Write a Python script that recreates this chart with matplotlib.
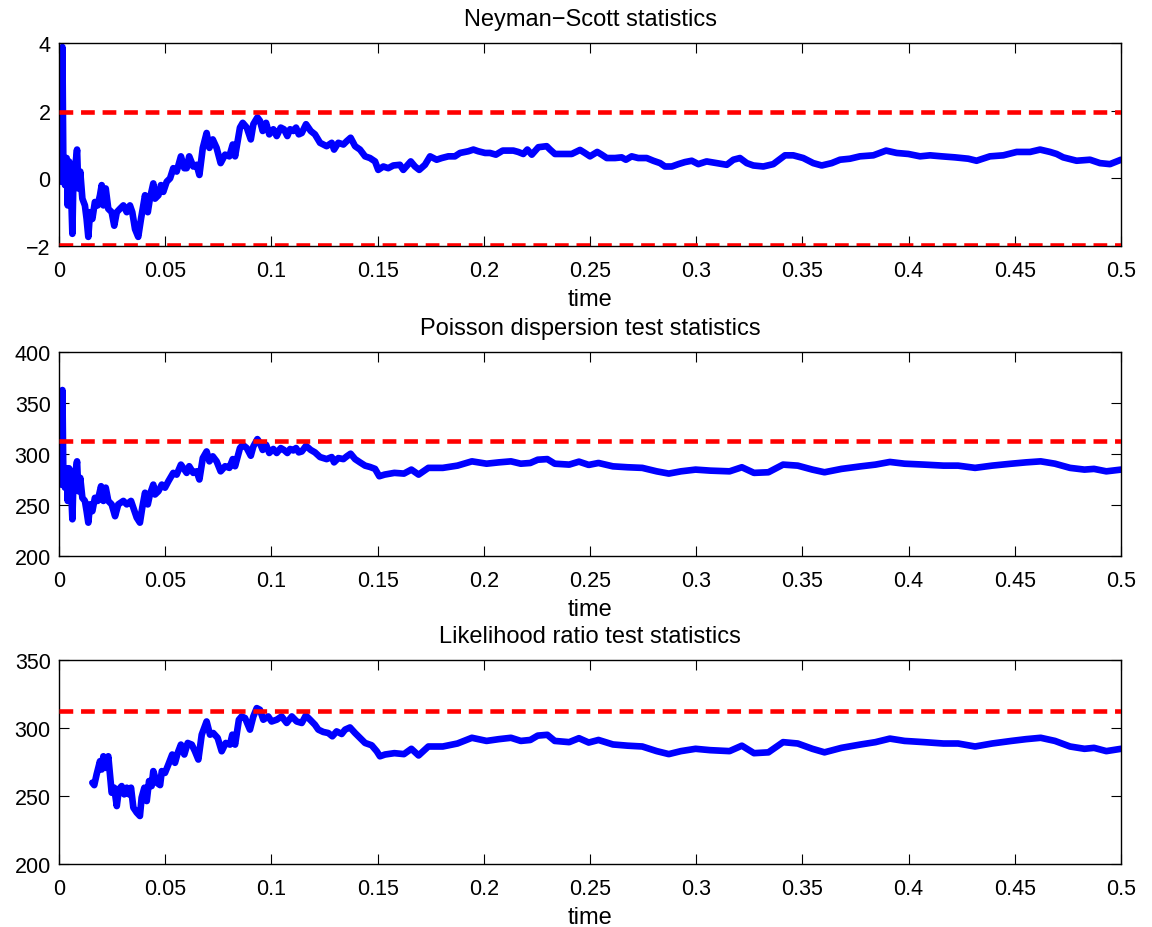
import matplotlib
matplotlib.use("Agg")
import matplotlib.pyplot as plt

plt.rcParams['font.family'] = ['Liberation Sans', 'DejaVu Sans']

# ---------------- data ----------------
# Neyman-Scott statistics
ns_t = [0.0005, 0.0016, 0.0020, 0.0028, 0.0036, 0.0041, 0.0047, 0.0056, 0.0063, 0.0069,
        0.0079, 0.0085, 0.0091, 0.0100, 0.0110, 0.0122, 0.0130, 0.0138, 0.0146, 0.0157,
        0.0169, 0.0182, 0.0193, 0.0201, 0.0209, 0.0220, 0.0232, 0.0248, 0.0260, 0.0272,
        0.0287, 0.0303, 0.0319, 0.0334, 0.0345, 0.0358, 0.0373, 0.0386, 0.0397, 0.0405,
        0.0418, 0.0428, 0.0444, 0.0452, 0.0468, 0.0480, 0.0491, 0.0507, 0.0523, 0.0538,
        0.0554, 0.0574, 0.0590, 0.0601, 0.0613, 0.0632, 0.0648, 0.0661, 0.0677, 0.0695,
        0.0708, 0.0724, 0.0742, 0.0761, 0.0782, 0.0802, 0.0818, 0.0829, 0.0852, 0.0865,
        0.0884, 0.0903, 0.0915, 0.0934, 0.0946, 0.0959, 0.0975, 0.0990, 0.1009, 0.1025,
        0.1044, 0.1059, 0.1075, 0.1088, 0.1103, 0.1116, 0.1129, 0.1143, 0.1163, 0.1185,
        0.1205, 0.1229, 0.1260, 0.1284, 0.1295, 0.1315, 0.1339, 0.1355, 0.1373, 0.1394,
        0.1417, 0.1441, 0.1464, 0.1488, 0.1503, 0.1527, 0.1550, 0.1574, 0.1605, 0.1621,
        0.1656, 0.1676, 0.1696, 0.1723, 0.1747, 0.1778, 0.1802, 0.1833, 0.1864, 0.1888,
        0.1927, 0.1951, 0.1974, 0.2006, 0.2029, 0.2057, 0.2089, 0.2115, 0.2139, 0.2162,
        0.2186, 0.2205, 0.2226, 0.2257, 0.2296, 0.2312, 0.2335, 0.2374, 0.2414, 0.2453,
        0.2476, 0.2500, 0.2534, 0.2555, 0.2579, 0.2618, 0.2649, 0.2669, 0.2696, 0.2727,
        0.2767, 0.2798, 0.2830, 0.2853, 0.2885, 0.2916, 0.2947, 0.2979, 0.3010, 0.3049,
        0.3097, 0.3144, 0.3175, 0.3206, 0.3238, 0.3269, 0.3316, 0.3363, 0.3418, 0.3457,
        0.3504, 0.3551, 0.3591, 0.3638, 0.3677, 0.3724, 0.3771, 0.3834, 0.3894, 0.3944,
        0.3999, 0.4054, 0.4101, 0.4156, 0.4218, 0.4281, 0.4320, 0.4383, 0.4446, 0.4509,
        0.4572, 0.4619, 0.4666, 0.4697, 0.4728, 0.4791, 0.4854, 0.4901, 0.4948, 0.4987,
        0.5000]
ns_v = [-0.10, 3.88, 0.70, -0.20, 0.60, -0.80, 0.50, -0.20, -1.64, 0.40,
        0.50, 0.85, -0.30, 0.20, -0.60, -0.80, -1.20, -1.73, -1.00, -1.20,
        -0.70, -0.80, -0.50, -0.20, -0.80, -0.30, -0.90, -1.00, -1.40, -1.00,
        -0.90, -0.80, -1.00, -0.80, -1.00, -1.50, -1.73, -1.20, -0.80, -0.50,
        -1.00, -0.60, -0.15, -0.60, -0.50, -0.20, -0.40, -0.10, 0.00, 0.30,
        0.20, 0.65, 0.30, 0.30, 0.65, 0.35, 0.40, 0.10, 0.90, 1.34,
        0.90, 1.15, 0.90, 0.45, 0.70, 0.65, 1.00, 0.65, 1.50, 1.64,
        1.50, 1.15, 1.60, 1.80, 1.70, 1.40, 1.64, 1.30, 1.45, 1.25,
        1.50, 1.45, 1.25, 1.45, 1.40, 1.50, 1.30, 1.34, 1.60, 1.40,
        1.30, 1.05, 0.95, 1.05, 0.85, 1.05, 1.00, 1.10, 1.20, 0.95,
        0.85, 0.65, 0.60, 0.50, 0.25, 0.35, 0.30, 0.38, 0.40, 0.25,
        0.50, 0.35, 0.25, 0.40, 0.65, 0.55, 0.60, 0.65, 0.65, 0.75,
        0.80, 0.85, 0.80, 0.75, 0.75, 0.70, 0.82, 0.82, 0.82, 0.78,
        0.72, 0.85, 0.70, 0.92, 0.95, 0.85, 0.72, 0.72, 0.72, 0.84,
        0.75, 0.65, 0.78, 0.70, 0.60, 0.60, 0.62, 0.55, 0.65, 0.60,
        0.60, 0.52, 0.45, 0.35, 0.35, 0.42, 0.48, 0.52, 0.42, 0.50,
        0.45, 0.40, 0.55, 0.60, 0.45, 0.38, 0.35, 0.42, 0.68, 0.68,
        0.60, 0.45, 0.38, 0.45, 0.55, 0.58, 0.65, 0.68, 0.82, 0.75,
        0.72, 0.65, 0.68, 0.65, 0.62, 0.58, 0.52, 0.65, 0.68, 0.78,
        0.78, 0.85, 0.78, 0.72, 0.62, 0.52, 0.55, 0.45, 0.42, 0.52,
        0.55]
ns_bound = 1.96

# Poisson dispersion test statistics
pd_t = [0.0005, 0.0016, 0.0020, 0.0028, 0.0036, 0.0041, 0.0047, 0.0056, 0.0063, 0.0069,
        0.0079, 0.0085, 0.0091, 0.0100, 0.0110, 0.0122, 0.0130, 0.0138, 0.0146, 0.0157,
        0.0169, 0.0182, 0.0198, 0.0209, 0.0220, 0.0232, 0.0248, 0.0264, 0.0279, 0.0303,
        0.0319, 0.0339, 0.0350, 0.0366, 0.0381, 0.0392, 0.0405, 0.0418, 0.0428, 0.0444,
        0.0452, 0.0468, 0.0484, 0.0499, 0.0515, 0.0538, 0.0554, 0.0574, 0.0590, 0.0601,
        0.0613, 0.0632, 0.0648, 0.0661, 0.0677, 0.0695, 0.0708, 0.0724, 0.0742, 0.0761,
        0.0782, 0.0802, 0.0818, 0.0829, 0.0852, 0.0865, 0.0884, 0.0903, 0.0915, 0.0934,
        0.0946, 0.0959, 0.0975, 0.0990, 0.1009, 0.1025, 0.1044, 0.1059, 0.1075, 0.1088,
        0.1103, 0.1116, 0.1129, 0.1143, 0.1163, 0.1185, 0.1205, 0.1229, 0.1260, 0.1284,
        0.1295, 0.1315, 0.1339, 0.1355, 0.1373, 0.1394, 0.1417, 0.1441, 0.1464, 0.1488,
        0.1508, 0.1533, 0.1579, 0.1624, 0.1659, 0.1693, 0.1739, 0.1807, 0.1876, 0.1944,
        0.2013, 0.2071, 0.2128, 0.2174, 0.2219, 0.2254, 0.2299, 0.2334, 0.2402, 0.2448,
        0.2494, 0.2540, 0.2608, 0.2677, 0.2746, 0.2814, 0.2871, 0.2928, 0.2997, 0.3066,
        0.3157, 0.3215, 0.3272, 0.3340, 0.3409, 0.3478, 0.3547, 0.3604, 0.3684, 0.3775,
        0.3844, 0.3912, 0.3981, 0.4073, 0.4164, 0.4233, 0.4313, 0.4393, 0.4484, 0.4553,
        0.4622, 0.4689, 0.4760, 0.4828, 0.4873, 0.4931, 0.5000]
pd_v = [270.0, 362.7, 286.0, 267.0, 286.0, 254.0, 286.0, 270.0, 236.0, 283.0,
        284.7, 292.8, 263.5, 276.6, 257.0, 254.0, 244.0, 232.7, 250.6, 244.0,
        257.0, 254.0, 268.4, 254.0, 267.0, 254.0, 250.6, 239.0, 250.6, 254.0,
        250.6, 254.0, 247.4, 237.6, 232.7, 247.4, 262.0, 250.6, 260.3, 270.0,
        260.3, 263.5, 270.0, 267.0, 273.3, 281.5, 279.8, 289.6, 284.7, 281.5,
        288.0, 281.5, 283.0, 275.0, 296.0, 302.5, 292.8, 297.7, 292.8, 283.0,
        288.0, 286.4, 295.0, 288.0, 305.8, 309.0, 305.8, 298.3, 307.4, 314.6,
        310.7, 304.0, 309.0, 301.0, 304.9, 301.0, 305.8, 304.0, 301.0, 304.9,
        303.5, 305.8, 301.6, 302.5, 308.0, 304.0, 301.6, 297.0, 295.0, 297.0,
        291.8, 296.0, 295.0, 297.7, 300.3, 295.0, 291.8, 288.6, 287.3, 285.4,
        278.2, 279.8, 281.5, 280.8, 284.7, 279.8, 286.4, 286.4, 288.6, 292.8,
        290.5, 291.8, 292.8, 290.5, 291.2, 294.4, 295.0, 290.5, 289.6, 292.5,
        289.3, 291.2, 287.9, 287.0, 286.4, 283.0, 280.8, 283.0, 284.7, 283.7,
        283.0, 287.0, 281.5, 282.1, 289.6, 288.6, 284.7, 282.1, 285.4, 287.9,
        289.6, 292.2, 290.5, 289.6, 288.6, 288.6, 286.4, 288.6, 290.5, 291.8,
        292.8, 290.5, 286.4, 284.7, 285.4, 283.0, 284.7]
pd_crit = 312.3

# Likelihood ratio test statistics
lr_t = [0.0157, 0.0166, 0.0177, 0.0193, 0.0201, 0.0209, 0.0220, 0.0232, 0.0240, 0.0248,
        0.0260, 0.0272, 0.0282, 0.0295, 0.0307, 0.0319, 0.0330, 0.0339, 0.0350, 0.0366,
        0.0381, 0.0389, 0.0402, 0.0413, 0.0424, 0.0436, 0.0444, 0.0460, 0.0476, 0.0484,
        0.0499, 0.0515, 0.0533, 0.0546, 0.0559, 0.0574, 0.0590, 0.0606, 0.0625, 0.0640,
        0.0656, 0.0672, 0.0695, 0.0711, 0.0726, 0.0747, 0.0766, 0.0785, 0.0805, 0.0816,
        0.0829, 0.0847, 0.0860, 0.0876, 0.0899, 0.0915, 0.0931, 0.0946, 0.0962, 0.0985,
        0.1001, 0.1025, 0.1048, 0.1072, 0.1096, 0.1119, 0.1143, 0.1162, 0.1182, 0.1205,
        0.1221, 0.1244, 0.1268, 0.1287, 0.1307, 0.1331, 0.1347, 0.1370, 0.1394, 0.1417,
        0.1441, 0.1472, 0.1496, 0.1511, 0.1535, 0.1579, 0.1624, 0.1659, 0.1693, 0.1739,
        0.1807, 0.1876, 0.1944, 0.2013, 0.2071, 0.2128, 0.2174, 0.2219, 0.2254, 0.2299,
        0.2334, 0.2402, 0.2448, 0.2494, 0.2540, 0.2608, 0.2677, 0.2746, 0.2814, 0.2871,
        0.2928, 0.2997, 0.3066, 0.3157, 0.3215, 0.3272, 0.3340, 0.3409, 0.3478, 0.3547,
        0.3604, 0.3684, 0.3775, 0.3844, 0.3912, 0.3981, 0.4073, 0.4164, 0.4233, 0.4313,
        0.4393, 0.4484, 0.4553, 0.4622, 0.4689, 0.4760, 0.4828, 0.4873, 0.4931, 0.5000]
lr_v = [259.8, 258.0, 265.8, 275.6, 269.5, 279.2, 270.7, 279.2, 265.8, 252.4,
        256.1, 242.6, 254.9, 257.3, 251.2, 256.1, 251.2, 256.1, 241.5, 237.8,
        235.3, 248.8, 256.1, 246.3, 261.0, 257.3, 268.3, 259.8, 258.0, 268.3,
        267.0, 273.2, 280.5, 274.4, 281.7, 287.8, 280.5, 289.0, 287.8, 282.9,
        276.8, 295.1, 304.8, 295.1, 296.3, 292.7, 282.9, 289.0, 287.8, 295.1,
        287.8, 306.1, 308.5, 307.3, 298.8, 308.5, 314.6, 313.4, 306.1, 308.5,
        304.8, 306.1, 308.5, 303.7, 308.5, 304.8, 303.7, 309.2, 306.1, 302.4,
        298.8, 297.1, 296.3, 293.9, 297.5, 295.6, 298.8, 300.4, 296.3, 292.7,
        289.0, 287.3, 282.9, 279.2, 280.5, 281.5, 280.8, 284.7, 279.8, 286.4,
        286.4, 288.6, 292.8, 290.5, 291.8, 292.8, 290.5, 291.2, 294.4, 295.0,
        290.5, 289.6, 292.5, 289.3, 291.2, 287.9, 287.0, 286.4, 283.0, 280.8,
        283.0, 284.7, 283.7, 283.0, 287.0, 281.5, 282.1, 289.6, 288.6, 284.7,
        282.1, 285.4, 287.9, 289.6, 292.2, 290.5, 289.6, 288.6, 288.6, 286.4,
        288.6, 290.5, 291.8, 292.8, 290.5, 286.4, 284.7, 285.4, 283.0, 284.7]
lr_crit = 312.3

titles = ['Neyman\u2212Scott statistics', 'Poisson dispersion test statistics',
          'Likelihood ratio test statistics']
x_ticks = [0, 0.05, 0.1, 0.15, 0.2, 0.25, 0.3, 0.35, 0.4, 0.45, 0.5]
x_ticklabels = ['0', '0.05', '0.1', '0.15', '0.2', '0.25', '0.3', '0.35', '0.4', '0.45', '0.5']
y_ticks = [[-2, 0, 2, 4], [200, 250, 300, 350, 400], [200, 250, 300, 350]]
y_lims = [(-2, 4), (200, 400), (200, 350)]

# ---------------- figure ----------------
W, H = 1152, 928
fig = plt.figure(figsize=(W / 100, H / 100), dpi=100)
boxes = [(44, 247), (353, 557), (661, 865)]
left_px, right_px = 59, 1121

series = [
    (ns_t, ns_v, [ns_bound, -ns_bound]),
    (pd_t, pd_v, [pd_crit]),
    (lr_t, lr_v, [lr_crit]),
]

for i, ((tt, vv, hlines), (top, bot)) in enumerate(zip(series, boxes)):
    ax = fig.add_axes([left_px / W, 1 - bot / H, (right_px - left_px) / W, (bot - top) / H])
    ax.plot(tt, vv, color=(0, 0, 1), linewidth=4.8, solid_joinstyle='round',
            solid_capstyle='round', zorder=2)
    for hv in hlines:
        ax.axhline(hv, color=(1, 0, 0), linewidth=3.3, dashes=(3.0, 1.7), zorder=3)
    ax.set_xlim(0, 0.5)
    ax.set_ylim(*y_lims[i])
    ax.set_xticks(x_ticks)
    ax.set_xticklabels(x_ticklabels)
    ax.set_yticks(y_ticks[i])
    ax.tick_params(direction='in', top=True, right=True, length=7.5, width=0.8,
                   labelsize=15.5, colors='black')
    ax.tick_params(axis='x', pad=10)
    ax.tick_params(axis='y', pad=6)
    for sp in ax.spines.values():
        sp.set_linewidth(1.0)
    ax.set_title(titles[i], fontsize=17, pad=13)
    ax.set_xlabel('time', fontsize=17, labelpad=5)

fig.savefig('out.png', dpi=100)
